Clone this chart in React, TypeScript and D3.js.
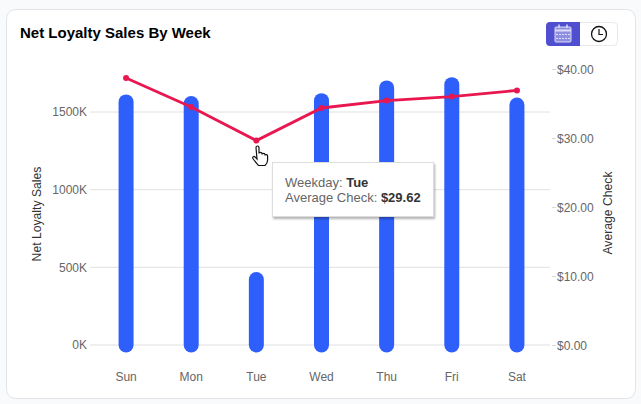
import React, { useEffect, useRef } from 'react'
import * as d3 from 'd3'

const weekdays = ['Sun', 'Mon', 'Tue', 'Wed', 'Thu', 'Fri', 'Sat']
const netLoyaltySales = [1565, 1555, 421, 1573, 1655, 1676, 1545]
const averageCheck = [38.7, 34.5, 29.62, 34.35, 35.43, 36.0, 36.9]
const salesTicks = [0, 500, 1000, 1500]
const checkTicks = [0, 10, 20, 30, 40]

const FONT = 'Arial, "Liberation Sans", Helvetica, sans-serif'
const width = 641
const height = 404

export default function App() {
  const svgRef = useRef<SVGSVGElement>(null)

  useEffect(() => {
    if (!svgRef.current) return
    const svg = d3.select(svgRef.current)
    svg.selectAll('*').remove()

    const defs = svg.append('defs')
    const shadow = defs.append('filter').attr('id', 'tipShadow').attr('x', '-10%').attr('y', '-10%').attr('width', '120%').attr('height', '130%')
    shadow.append('feDropShadow').attr('dx', 1).attr('dy', 2).attr('stdDeviation', 1).attr('flood-color', '#000').attr('flood-opacity', 0.3)

    svg.append('rect').attr('width', width).attr('height', height).attr('fill', '#f9fafc')
    svg.append('rect').attr('x', 6.5).attr('y', 9.5).attr('width', 629).attr('height', 389).attr('rx', 9)
      .attr('fill', '#fff').attr('stroke', '#e2e4e8')

    svg.append('text').attr('x', 20).attr('y', 38).text('Net Loyalty Sales By Week')
      .style('font', `bold 15px ${FONT}`).attr('fill', '#000')

    const x = d3.scaleBand().domain(weekdays).range([93.5, 549.5])
    const ySales = d3.scaleLinear().domain([0, 1500]).range([345, 112])
    const yCheck = d3.scaleLinear().domain([0, 40]).range([345, 69])
    const cx = (d: string) => (x(d) || 0) + x.bandwidth() / 2

    const left = svg.append('g').attr('transform', 'translate(90,0)')
      .call(d3.axisLeft(ySales).tickValues(salesTicks).tickSize(0).tickPadding(3).tickFormat((d) => `${d}K`))
    const right = svg.append('g').attr('transform', 'translate(552,0)')
      .call(d3.axisRight(yCheck).tickValues(checkTicks).tickSize(4).tickPadding(1).tickFormat((d) => `$${Number(d).toFixed(2)}`))
    const bottom = svg.append('g').attr('transform', 'translate(0,345)')
      .call(d3.axisBottom(x).tickSize(0).tickPadding(27))
    ;[left, right, bottom].forEach((a) => {
      a.select('.domain').remove()
      a.selectAll('text').style('font', `12px ${FONT}`).attr('fill', '#666')
      a.selectAll('line').attr('stroke', '#d8d8d8')
    })
    right.selectAll('text').attr('dy', '0.36em')

    svg.append('g').selectAll('line').data(salesTicks).enter().append('line')
      .attr('x1', 90).attr('x2', 550)
      .attr('y1', (d) => ySales(d)).attr('y2', (d) => ySales(d))
      .attr('stroke', '#e0e0e0')

    svg.append('g').selectAll('line').data(weekdays).enter().append('line')
      .attr('x1', cx).attr('x2', cx)
      .attr('y1', ySales(0))
      .attr('y2', (_, i) => ySales(netLoyaltySales[i]))
      .attr('stroke', '#2f5ffb').attr('stroke-width', 15).attr('stroke-linecap', 'round')

    const line = d3.line<number>().x((_, i) => cx(weekdays[i])).y((d) => yCheck(d))
    svg.append('path').datum(averageCheck).attr('d', line)
      .attr('fill', 'none').attr('stroke', '#e8174f').attr('stroke-width', 2.8)
    svg.append('g').selectAll('circle').data(averageCheck).enter().append('circle')
      .attr('cx', (_, i) => cx(weekdays[i])).attr('cy', (d) => yCheck(d)).attr('r', 3)
      .attr('fill', '#e8174f')

    svg.append('text').attr('transform', 'translate(41,214) rotate(-90)').attr('text-anchor', 'middle')
      .text('Net Loyalty Sales').style('font', `12.2px ${FONT}`).attr('fill', '#333')
    svg.append('text').attr('transform', 'translate(612,213) rotate(-90)').attr('text-anchor', 'middle')
      .text('Average Check').style('font', `12.2px ${FONT}`).attr('fill', '#333')

    // hover tooltip for Tue
    const tip = svg.append('g')
    tip.append('rect').attr('x', 272.5).attr('y', 162.5).attr('width', 161).attr('height', 54)
      .attr('fill', '#fff').attr('stroke', '#ddd').attr('filter', 'url(#tipShadow)')
    const t1 = tip.append('text').attr('x', 285).attr('y', 187).style('font', `13px ${FONT}`).attr('fill', '#666')
    t1.append('tspan').text('Weekday: ')
    t1.append('tspan').text(weekdays[2]).attr('font-weight', 'bold').attr('fill', '#333')
    const t2 = tip.append('text').attr('x', 285).attr('y', 202).style('font', `13px ${FONT}`).attr('fill', '#666')
    t2.append('tspan').text('Average Check: ')
    t2.append('tspan').text(`$${averageCheck[2].toFixed(2)}`).attr('font-weight', 'bold').attr('fill', '#333')

    // hand cursor
    svg.append('path')
      .attr('transform', 'translate(253,146)')
      .attr('d', 'M3 1.5c0-2 3-2 3 0v6c0-1.5 3-1.5 3 0v1c0-1.5 3-1.5 3 0v1c0-1.3 2.6-1.3 2.6 .4v4c0 3-1.5 4.6-2.6 5.6h-6.5c-1-1.2-4.5-5-5.6-7-.8-1.6 1-2.8 2.3-1.4l1.8 2z')
      .attr('fill', '#fff').attr('stroke', '#111').attr('stroke-width', 1.2)

    // toggle buttons
    const toggle = svg.append('g')
    toggle.append('rect').attr('x', 546.5).attr('y', 22.5).attr('width', 71).attr('height', 23).attr('rx', 4)
      .attr('fill', '#fff').attr('stroke', '#e8e8e8')
    toggle.append('path').attr('d', 'M580 22h-30a4 4 0 0 0-4 4v16a4 4 0 0 0 4 4h30z').attr('fill', '#4f4fd0')
    const cal = toggle.append('g').attr('stroke', '#dcdcf7').attr('fill', 'none')
    cal.append('rect').attr('x', 555).attr('y', 27).attr('width', 16).attr('height', 15).attr('rx', 1).attr('fill', '#8f8fe2')
    cal.append('line').attr('x1', 555).attr('x2', 571).attr('y1', 30.5).attr('y2', 30.5).attr('stroke-width', 2)
    cal.append('line').attr('x1', 559).attr('x2', 559).attr('y1', 24.5).attr('y2', 28).attr('stroke-width', 1.5)
    cal.append('line').attr('x1', 567).attr('x2', 567).attr('y1', 24.5).attr('y2', 28).attr('stroke-width', 1.5)
    cal.append('line').attr('x1', 556).attr('x2', 570).attr('y1', 34.5).attr('y2', 34.5).attr('stroke-dasharray', '2 1')
    cal.append('line').attr('x1', 556).attr('x2', 570).attr('y1', 38.5).attr('y2', 38.5).attr('stroke-dasharray', '2 1')
    const clock = toggle.append('g').attr('stroke', '#111').attr('fill', 'none')
    clock.append('circle').attr('cx', 599).attr('cy', 34).attr('r', 7.5).attr('stroke-width', 1.3)
    clock.append('path').attr('d', 'M599 29v5.5h4').attr('stroke-width', 1.2)
  }, [])

  return <svg ref={svgRef} width={width} height={height} style={{ position: 'absolute', left: 0, top: 0 }} />
}
